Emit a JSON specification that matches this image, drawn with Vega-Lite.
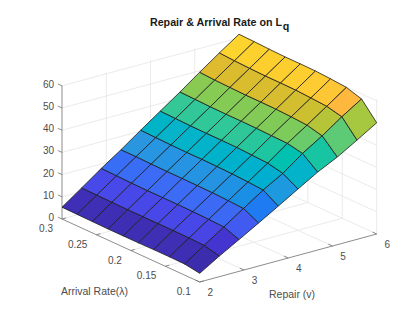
{
"$schema":"https://vega.github.io/schema/vega-lite/v6.json",
"width":420,"height":310,"padding":0,"autosize":"none",
"background":"white",
"title":{"text":"Repair & Arrival Rate on L","anchor":"end","frame":"group","dx":-138,"offset":-29,"font":"Liberation Sans","fontSize":10.7,"fontWeight":"bold","color":"#1a1a1a"},
"config":{"view":{"stroke":null},"font":"Liberation Sans"},
"datasets":{
"grid":[
{"g":"f3","l":[0.1,0.3],"v":[3,3],"z":[0,0]},{"g":"f4","l":[0.1,0.3],"v":[4,4],"z":[0,0]},{"g":"f5","l":[0.1,0.3],"v":[5,5],"z":[0,0]},{"g":"f6","l":[0.1,0.3],"v":[6,6],"z":[0,0]},
{"g":"l15","l":[0.15,0.15],"v":[2,6],"z":[0,0]},{"g":"l2","l":[0.2,0.2],"v":[2,6],"z":[0,0]},{"g":"l25","l":[0.25,0.25],"v":[2,6],"z":[0,0]},{"g":"l3","l":[0.3,0.3],"v":[2,6],"z":[0,0]},
{"g":"w3","l":[0.3,0.3],"v":[3,3],"z":[0,60.6]},{"g":"w4","l":[0.3,0.3],"v":[4,4],"z":[0,60.6]},{"g":"w5","l":[0.3,0.3],"v":[5,5],"z":[0,60.6]},{"g":"w6","l":[0.3,0.3],"v":[6,6],"z":[0,60.6]},
{"g":"x1","l":[0.1,0.1],"v":[6,6],"z":[0,60.6]},{"g":"x15","l":[0.15,0.15],"v":[6,6],"z":[0,60.6]},{"g":"x2","l":[0.2,0.2],"v":[6,6],"z":[0,60.6]},{"g":"x25","l":[0.25,0.25],"v":[6,6],"z":[0,60.6]},
{"g":"a10","l":[0.3,0.3],"v":[2,6],"z":[10,10]},{"g":"a20","l":[0.3,0.3],"v":[2,6],"z":[20,20]},{"g":"a30","l":[0.3,0.3],"v":[2,6],"z":[30,30]},{"g":"a40","l":[0.3,0.3],"v":[2,6],"z":[40,40]},{"g":"a50","l":[0.3,0.3],"v":[2,6],"z":[50,50]},{"g":"a60","l":[0.3,0.3],"v":[2,6],"z":[60,60]},
{"g":"b10","l":[0.3,0.1],"v":[6,6],"z":[10,10]},{"g":"b20","l":[0.3,0.1],"v":[6,6],"z":[20,20]},{"g":"b30","l":[0.3,0.1],"v":[6,6],"z":[30,30]},{"g":"b40","l":[0.3,0.1],"v":[6,6],"z":[40,40]},{"g":"b50","l":[0.3,0.1],"v":[6,6],"z":[50,50]},{"g":"b60","l":[0.3,0.1],"v":[6,6],"z":[60,60]}
],
"axes":[
{"g":"za","l":[0.3,0.3],"v":[2,2],"z":[0,60]},{"g":"la","l":[0.3,0.1],"v":[2,2],"z":[0,0]},{"g":"va","l":[0.1,0.1],"v":[2,6],"z":[0,0]},
{"g":"t0","l":[0.3,0.306],"v":[2,2],"z":[0,0]},{"g":"t10","l":[0.3,0.306],"v":[2,2],"z":[10,10]},{"g":"t20","l":[0.3,0.306],"v":[2,2],"z":[20,20]},{"g":"t30","l":[0.3,0.306],"v":[2,2],"z":[30,30]},{"g":"t40","l":[0.3,0.306],"v":[2,2],"z":[40,40]},{"g":"t50","l":[0.3,0.306],"v":[2,2],"z":[50,50]},{"g":"t60","l":[0.3,0.306],"v":[2,2],"z":[60,60]},
{"g":"u1","l":[0.1,0.1],"v":[2,2.09],"z":[0,0]},{"g":"u15","l":[0.15,0.15],"v":[2,2.09],"z":[0,0]},{"g":"u2","l":[0.2,0.2],"v":[2,2.09],"z":[0,0]},{"g":"u25","l":[0.25,0.25],"v":[2,2.09],"z":[0,0]},{"g":"u3","l":[0.3,0.3],"v":[2,2.09],"z":[0,0]},
{"g":"s2","l":[0.1,0.106],"v":[2,2],"z":[0,0]},{"g":"s3","l":[0.1,0.106],"v":[3,3],"z":[0,0]},{"g":"s4","l":[0.1,0.106],"v":[4,4],"z":[0,0]},{"g":"s5","l":[0.1,0.106],"v":[5,5],"z":[0,0]},{"g":"s6","l":[0.1,0.106],"v":[6,6],"z":[0,0]}
],
"surface":[
{"cell":"0-0","l":[0.3,0.3,0.278,0.278],"v":[2,2.444,2.444,2],"z":[5.3,11.6,11.5,5.2],"c":5.2},
{"cell":"0-1","l":[0.3,0.3,0.278,0.278],"v":[2.444,2.889,2.889,2.444],"z":[11.6,18,17.8,11.5],"c":11.5},
{"cell":"0-2","l":[0.3,0.3,0.278,0.278],"v":[2.889,3.333,3.333,2.889],"z":[18,24,24,17.8],"c":17.8},
{"cell":"0-3","l":[0.3,0.3,0.278,0.278],"v":[3.333,3.778,3.778,3.333],"z":[24,30.4,30.2,24],"c":24},
{"cell":"0-4","l":[0.3,0.3,0.278,0.278],"v":[3.778,4.222,4.222,3.778],"z":[30.4,36.6,36.4,30.2],"c":30.2},
{"cell":"0-5","l":[0.3,0.3,0.278,0.278],"v":[4.222,4.667,4.667,4.222],"z":[36.6,42.8,42.6,36.4],"c":36.4},
{"cell":"0-6","l":[0.3,0.3,0.278,0.278],"v":[4.667,5.111,5.111,4.667],"z":[42.8,49.3,48.9,42.6],"c":42.6},
{"cell":"0-7","l":[0.3,0.3,0.278,0.278],"v":[5.111,5.556,5.556,5.111],"z":[49.3,55.6,55.2,48.9],"c":48.9},
{"cell":"0-8","l":[0.3,0.3,0.278,0.278],"v":[5.556,6,6,5.556],"z":[55.6,61.6,61.4,55.2],"c":55.2},
{"cell":"1-0","l":[0.278,0.278,0.256,0.256],"v":[2,2.444,2.444,2],"z":[5.2,11.5,11.4,5.1],"c":5.1},
{"cell":"1-1","l":[0.278,0.278,0.256,0.256],"v":[2.444,2.889,2.889,2.444],"z":[11.5,17.8,17.6,11.4],"c":11.4},
{"cell":"1-2","l":[0.278,0.278,0.256,0.256],"v":[2.889,3.333,3.333,2.889],"z":[17.8,24,23.8,17.6],"c":17.6},
{"cell":"1-3","l":[0.278,0.278,0.256,0.256],"v":[3.333,3.778,3.778,3.333],"z":[24,30.2,30,23.8],"c":23.8},
{"cell":"1-4","l":[0.278,0.278,0.256,0.256],"v":[3.778,4.222,4.222,3.778],"z":[30.2,36.4,36.2,30],"c":30},
{"cell":"1-5","l":[0.278,0.278,0.256,0.256],"v":[4.222,4.667,4.667,4.222],"z":[36.4,42.6,42.4,36.2],"c":36.2},
{"cell":"1-6","l":[0.278,0.278,0.256,0.256],"v":[4.667,5.111,5.111,4.667],"z":[42.6,48.9,48.7,42.4],"c":42.4},
{"cell":"1-7","l":[0.278,0.278,0.256,0.256],"v":[5.111,5.556,5.556,5.111],"z":[48.9,55.2,54.9,48.7],"c":48.7},
{"cell":"1-8","l":[0.278,0.278,0.256,0.256],"v":[5.556,6,6,5.556],"z":[55.2,61.4,61.1,54.9],"c":54.9},
{"cell":"2-0","l":[0.256,0.256,0.233,0.233],"v":[2,2.444,2.444,2],"z":[5.1,11.4,11.3,5],"c":5},
{"cell":"2-1","l":[0.256,0.256,0.233,0.233],"v":[2.444,2.889,2.889,2.444],"z":[11.4,17.6,17.5,11.3],"c":11.3},
{"cell":"2-2","l":[0.256,0.256,0.233,0.233],"v":[2.889,3.333,3.333,2.889],"z":[17.6,23.8,23.7,17.5],"c":17.5},
{"cell":"2-3","l":[0.256,0.256,0.233,0.233],"v":[3.333,3.778,3.778,3.333],"z":[23.8,30,29.9,23.7],"c":23.7},
{"cell":"2-4","l":[0.256,0.256,0.233,0.233],"v":[3.778,4.222,4.222,3.778],"z":[30,36.2,36.1,29.9],"c":29.9},
{"cell":"2-5","l":[0.256,0.256,0.233,0.233],"v":[4.222,4.667,4.667,4.222],"z":[36.2,42.4,42.3,36.1],"c":36.1},
{"cell":"2-6","l":[0.256,0.256,0.233,0.233],"v":[4.667,5.111,5.111,4.667],"z":[42.4,48.7,48.5,42.3],"c":42.3},
{"cell":"2-7","l":[0.256,0.256,0.233,0.233],"v":[5.111,5.556,5.556,5.111],"z":[48.7,54.9,54.7,48.5],"c":48.5},
{"cell":"2-8","l":[0.256,0.256,0.233,0.233],"v":[5.556,6,6,5.556],"z":[54.9,61.1,60.9,54.7],"c":54.7},
{"cell":"3-0","l":[0.233,0.233,0.211,0.211],"v":[2,2.444,2.444,2],"z":[5,11.3,11.3,5],"c":5},
{"cell":"3-1","l":[0.233,0.233,0.211,0.211],"v":[2.444,2.889,2.889,2.444],"z":[11.3,17.5,17.5,11.3],"c":11.3},
{"cell":"3-2","l":[0.233,0.233,0.211,0.211],"v":[2.889,3.333,3.333,2.889],"z":[17.5,23.7,23.7,17.5],"c":17.5},
{"cell":"3-3","l":[0.233,0.233,0.211,0.211],"v":[3.333,3.778,3.778,3.333],"z":[23.7,29.9,29.9,23.7],"c":23.7},
{"cell":"3-4","l":[0.233,0.233,0.211,0.211],"v":[3.778,4.222,4.222,3.778],"z":[29.9,36.1,36.1,29.9],"c":29.9},
{"cell":"3-5","l":[0.233,0.233,0.211,0.211],"v":[4.222,4.667,4.667,4.222],"z":[36.1,42.3,42.3,36.1],"c":36.1},
{"cell":"3-6","l":[0.233,0.233,0.211,0.211],"v":[4.667,5.111,5.111,4.667],"z":[42.3,48.5,48.5,42.3],"c":42.3},
{"cell":"3-7","l":[0.233,0.233,0.211,0.211],"v":[5.111,5.556,5.556,5.111],"z":[48.5,54.7,54.7,48.5],"c":48.5},
{"cell":"3-8","l":[0.233,0.233,0.211,0.211],"v":[5.556,6,6,5.556],"z":[54.7,60.9,60.9,54.7],"c":54.7},
{"cell":"4-0","l":[0.211,0.211,0.189,0.189],"v":[2,2.444,2.444,2],"z":[5,11.3,11.3,5],"c":5},
{"cell":"4-1","l":[0.211,0.211,0.189,0.189],"v":[2.444,2.889,2.889,2.444],"z":[11.3,17.5,17.5,11.3],"c":11.3},
{"cell":"4-2","l":[0.211,0.211,0.189,0.189],"v":[2.889,3.333,3.333,2.889],"z":[17.5,23.7,23.6,17.5],"c":17.5},
{"cell":"4-3","l":[0.211,0.211,0.189,0.189],"v":[3.333,3.778,3.778,3.333],"z":[23.7,29.9,29.8,23.6],"c":23.6},
{"cell":"4-4","l":[0.211,0.211,0.189,0.189],"v":[3.778,4.222,4.222,3.778],"z":[29.9,36.1,36,29.8],"c":29.8},
{"cell":"4-5","l":[0.211,0.211,0.189,0.189],"v":[4.222,4.667,4.667,4.222],"z":[36.1,42.3,42.2,36],"c":36},
{"cell":"4-6","l":[0.211,0.211,0.189,0.189],"v":[4.667,5.111,5.111,4.667],"z":[42.3,48.5,48.4,42.2],"c":42.2},
{"cell":"4-7","l":[0.211,0.211,0.189,0.189],"v":[5.111,5.556,5.556,5.111],"z":[48.5,54.7,54.6,48.4],"c":48.4},
{"cell":"4-8","l":[0.211,0.211,0.189,0.189],"v":[5.556,6,6,5.556],"z":[54.7,60.9,60.8,54.6],"c":54.6},
{"cell":"5-0","l":[0.189,0.189,0.167,0.167],"v":[2,2.444,2.444,2],"z":[5,11.3,11.3,5.1],"c":5.1},
{"cell":"5-1","l":[0.189,0.189,0.167,0.167],"v":[2.444,2.889,2.889,2.444],"z":[11.3,17.5,17.4,11.3],"c":11.3},
{"cell":"5-2","l":[0.189,0.189,0.167,0.167],"v":[2.889,3.333,3.333,2.889],"z":[17.5,23.6,23.5,17.4],"c":17.4},
{"cell":"5-3","l":[0.189,0.189,0.167,0.167],"v":[3.333,3.778,3.778,3.333],"z":[23.6,29.8,29.6,23.5],"c":23.5},
{"cell":"5-4","l":[0.189,0.189,0.167,0.167],"v":[3.778,4.222,4.222,3.778],"z":[29.8,36,35.7,29.6],"c":29.6},
{"cell":"5-5","l":[0.189,0.189,0.167,0.167],"v":[4.222,4.667,4.667,4.222],"z":[36,42.2,42,35.7],"c":35.7},
{"cell":"5-6","l":[0.189,0.189,0.167,0.167],"v":[4.667,5.111,5.111,4.667],"z":[42.2,48.4,48.1,42],"c":42},
{"cell":"5-7","l":[0.189,0.189,0.167,0.167],"v":[5.111,5.556,5.556,5.111],"z":[48.4,54.6,54.2,48.1],"c":48.1},
{"cell":"5-8","l":[0.189,0.189,0.167,0.167],"v":[5.556,6,6,5.556],"z":[54.6,60.8,60.4,54.2],"c":54.2},
{"cell":"6-0","l":[0.167,0.167,0.144,0.144],"v":[2,2.444,2.444,2],"z":[5.1,11.3,11.2,5.1],"c":5.1},
{"cell":"6-1","l":[0.167,0.167,0.144,0.144],"v":[2.444,2.889,2.889,2.444],"z":[11.3,17.4,17.2,11.2],"c":11.2},
{"cell":"6-2","l":[0.167,0.167,0.144,0.144],"v":[2.889,3.333,3.333,2.889],"z":[17.4,23.5,23.2,17.2],"c":17.2},
{"cell":"6-3","l":[0.167,0.167,0.144,0.144],"v":[3.333,3.778,3.778,3.333],"z":[23.5,29.6,29.2,23.2],"c":23.2},
{"cell":"6-4","l":[0.167,0.167,0.144,0.144],"v":[3.778,4.222,4.222,3.778],"z":[29.6,35.7,35.3,29.2],"c":29.2},
{"cell":"6-5","l":[0.167,0.167,0.144,0.144],"v":[4.222,4.667,4.667,4.222],"z":[35.7,42,41.8,35.3],"c":35.3},
{"cell":"6-6","l":[0.167,0.167,0.144,0.144],"v":[4.667,5.111,5.111,4.667],"z":[42,48.1,47.6,41.8],"c":41.8},
{"cell":"6-7","l":[0.167,0.167,0.144,0.144],"v":[5.111,5.556,5.556,5.111],"z":[48.1,54.2,53.7,47.6],"c":47.6},
{"cell":"6-8","l":[0.167,0.167,0.144,0.144],"v":[5.556,6,6,5.556],"z":[54.2,60.4,59.8,53.7],"c":53.7},
{"cell":"7-0","l":[0.144,0.144,0.122,0.122],"v":[2,2.444,2.444,2],"z":[5.1,11.2,11,5],"c":5},
{"cell":"7-1","l":[0.144,0.144,0.122,0.122],"v":[2.444,2.889,2.889,2.444],"z":[11.2,17.2,16.9,11],"c":11},
{"cell":"7-2","l":[0.144,0.144,0.122,0.122],"v":[2.889,3.333,3.333,2.889],"z":[17.2,23.2,22.8,16.9],"c":16.9},
{"cell":"7-3","l":[0.144,0.144,0.122,0.122],"v":[3.333,3.778,3.778,3.333],"z":[23.2,29.2,28.7,22.8],"c":22.8},
{"cell":"7-4","l":[0.144,0.144,0.122,0.122],"v":[3.778,4.222,4.222,3.778],"z":[29.2,35.3,33.8,28.7],"c":28.7},
{"cell":"7-5","l":[0.144,0.144,0.122,0.122],"v":[4.222,4.667,4.667,4.222],"z":[35.3,41.8,40.4,33.8],"c":33.8},
{"cell":"7-6","l":[0.144,0.144,0.122,0.122],"v":[4.667,5.111,5.111,4.667],"z":[41.8,47.6,45.9,40.4],"c":40.4},
{"cell":"7-7","l":[0.144,0.144,0.122,0.122],"v":[5.111,5.556,5.556,5.111],"z":[47.6,53.7,52.1,45.9],"c":45.9},
{"cell":"7-8","l":[0.144,0.144,0.122,0.122],"v":[5.556,6,6,5.556],"z":[53.7,59.8,57.7,52.1],"c":52.1},
{"cell":"8-0","l":[0.122,0.122,0.1,0.1],"v":[2,2.444,2.444,2],"z":[5,11,9.3,3.9],"c":3.9},
{"cell":"8-1","l":[0.122,0.122,0.1,0.1],"v":[2.444,2.889,2.889,2.444],"z":[11,16.9,14.3,9.3],"c":9.3},
{"cell":"8-2","l":[0.122,0.122,0.1,0.1],"v":[2.889,3.333,3.333,2.889],"z":[16.9,22.8,19.4,14.3],"c":14.3},
{"cell":"8-3","l":[0.122,0.122,0.1,0.1],"v":[3.333,3.778,3.778,3.333],"z":[22.8,28.7,24.6,19.4],"c":19.4},
{"cell":"8-4","l":[0.122,0.122,0.1,0.1],"v":[3.778,4.222,4.222,3.778],"z":[28.7,33.8,29.9,24.6],"c":24.6},
{"cell":"8-5","l":[0.122,0.122,0.1,0.1],"v":[4.222,4.667,4.667,4.222],"z":[33.8,40.4,35.1,29.9],"c":29.9},
{"cell":"8-6","l":[0.122,0.122,0.1,0.1],"v":[4.667,5.111,5.111,4.667],"z":[40.4,45.9,39.5,35.1],"c":35.1},
{"cell":"8-7","l":[0.122,0.122,0.1,0.1],"v":[5.111,5.556,5.556,5.111],"z":[45.9,52.1,44.7,39.5],"c":39.5},
{"cell":"8-8","l":[0.122,0.122,0.1,0.1],"v":[5.556,6,6,5.556],"z":[52.1,57.7,50.1,44.7],"c":44.7}
]
},
"layer":[
{"data":{"name":"grid"},
"transform":[{"flatten":["l","v","z"]},{"calculate":"62+(0.3-datum.l)/0.2*137.7+(datum.v-2)/4*177","as":"px"},{"calculate":"219+(0.3-datum.l)/0.2*63-(datum.v-2)/4*48-2.22*datum.z","as":"py"},{"window":[{"op":"row_number","as":"o"}]}],
"mark":{"type":"line","stroke":"#e4e4e4","strokeWidth":0.8},
"encoding":{"x":{"field":"px","type":"quantitative","scale":{"domain":[0,420]},"axis":null},"y":{"field":"py","type":"quantitative","scale":{"domain":[310,0]},"axis":null},"detail":{"field":"g"},"order":{"field":"o","type":"quantitative"}}},
{"data":{"name":"axes"},
"transform":[{"flatten":["l","v","z"]},{"calculate":"62+(0.3-datum.l)/0.2*137.7+(datum.v-2)/4*177","as":"px"},{"calculate":"219+(0.3-datum.l)/0.2*63-(datum.v-2)/4*48-2.22*datum.z","as":"py"},{"window":[{"op":"row_number","as":"o"}]}],
"mark":{"type":"line","stroke":"#6e6e6e","strokeWidth":0.8},
"encoding":{"x":{"field":"px","type":"quantitative","scale":{"domain":[0,420]},"axis":null},"y":{"field":"py","type":"quantitative","scale":{"domain":[310,0]},"axis":null},"detail":{"field":"g"},"order":{"field":"o","type":"quantitative"}}},
{"data":{"name":"surface"},
"transform":[{"flatten":["l","v","z"]},{"calculate":"62+(0.3-datum.l)/0.2*137.7+(datum.v-2)/4*177","as":"px"},{"calculate":"219+(0.3-datum.l)/0.2*63-(datum.v-2)/4*48-2.22*datum.z","as":"py"},{"window":[{"op":"row_number","as":"o"}]}],
"mark":{"type":"line","interpolate":"linear-closed","stroke":"#1c1c1c","strokeWidth":0.8},
"encoding":{"x":{"field":"px","type":"quantitative","scale":{"domain":[0,420]},"axis":null},"y":{"field":"py","type":"quantitative","scale":{"domain":[310,0]},"axis":null},"detail":{"field":"cell"},"order":{"field":"o","type":"quantitative"},
"fill":{"field":"c","type":"quantitative","legend":null,"scale":{"domain":[4,9.3,11.3,17.5,24,30,36,42,49,52,55],"range":["#3c2dae","#4535d0","#4848e8","#3c6cf5","#2a96e0","#06b3c9","#2fc79a","#80cb58","#dfbb2f","#fdb73d","#fcd22e"]}}}},
{"data":{"values":[{"t":"0","z":0},{"t":"10","z":10},{"t":"20","z":20},{"t":"30","z":30},{"t":"40","z":40},{"t":"50","z":50},{"t":"60","z":60}]},
"transform":[{"calculate":"62","as":"px"},{"calculate":"219-2.22*datum.z","as":"py"}],
"mark":{"type":"text","align":"right","baseline":"middle","dx":-8,"dy":-1,"fontSize":10,"fill":"#4d4d4d","font":"Liberation Sans"},
"encoding":{"x":{"field":"px","type":"quantitative","scale":{"domain":[0,420]},"axis":null},"y":{"field":"py","type":"quantitative","scale":{"domain":[310,0]},"axis":null},"text":{"field":"t"}}},
{"data":{"values":[{"t":"0.3","l":0.3},{"t":"0.25","l":0.25},{"t":"0.2","l":0.2},{"t":"0.15","l":0.15},{"t":"0.1","l":0.1}]},
"transform":[{"calculate":"62+(0.3-datum.l)/0.2*137.7","as":"px"},{"calculate":"219+(0.3-datum.l)/0.2*63","as":"py"}],
"mark":{"type":"text","align":"right","baseline":"middle","dx":-9,"dy":10,"fontSize":10,"fill":"#4d4d4d","font":"Liberation Sans"},
"encoding":{"x":{"field":"px","type":"quantitative","scale":{"domain":[0,420]},"axis":null},"y":{"field":"py","type":"quantitative","scale":{"domain":[310,0]},"axis":null},"text":{"field":"t"}}},
{"data":{"values":[{"t":"2","v":2},{"t":"3","v":3},{"t":"4","v":4},{"t":"5","v":5},{"t":"6","v":6}]},
"transform":[{"calculate":"62+137.7+(datum.v-2)/4*177","as":"px"},{"calculate":"219+63-(datum.v-2)/4*48","as":"py"}],
"mark":{"type":"text","align":"center","baseline":"middle","dx":10.5,"dy":11,"fontSize":10,"fill":"#4d4d4d","font":"Liberation Sans"},
"encoding":{"x":{"field":"px","type":"quantitative","scale":{"domain":[0,420]},"axis":null},"y":{"field":"py","type":"quantitative","scale":{"domain":[310,0]},"axis":null},"text":{"field":"t"}}},
{"data":{"values":[{"t":"Arrival Rate(\u03bb)","l":0.2}]},
"transform":[{"calculate":"62+(0.3-datum.l)/0.2*137.7","as":"px"},{"calculate":"219+(0.3-datum.l)/0.2*63","as":"py"}],
"mark":{"type":"text","align":"center","baseline":"middle","dx":-36.4,"dy":41.5,"fontSize":10.5,"fill":"#4d4d4d","font":"Liberation Sans"},
"encoding":{"x":{"field":"px","type":"quantitative","scale":{"domain":[0,420]},"axis":null},"y":{"field":"py","type":"quantitative","scale":{"domain":[310,0]},"axis":null},"text":{"field":"t"}}},
{"data":{"values":[{"t":"Repair (v)","v":4}]},
"transform":[{"calculate":"62+137.7+(datum.v-2)/4*177","as":"px"},{"calculate":"219+63-(datum.v-2)/4*48","as":"py"}],
"mark":{"type":"text","align":"center","baseline":"middle","dx":3.8,"dy":37,"fontSize":10.5,"fill":"#4d4d4d","font":"Liberation Sans"},
"encoding":{"x":{"field":"px","type":"quantitative","scale":{"domain":[0,420]},"axis":null},"y":{"field":"py","type":"quantitative","scale":{"domain":[310,0]},"axis":null},"text":{"field":"t"}}},
{"data":{"values":[{"t":"q"}]},
"mark":{"type":"text","align":"center","baseline":"middle","fontSize":10.7,"fontWeight":"bold","fill":"#1a1a1a","font":"Liberation Sans"},
"encoding":{"x":{"datum":286,"type":"quantitative","scale":{"domain":[0,420]},"axis":null},"y":{"datum":27,"type":"quantitative","scale":{"domain":[310,0]},"axis":null},"text":{"field":"t"}}}
],
"resolve":{"scale":{"x":"shared","y":"shared"}}
}
